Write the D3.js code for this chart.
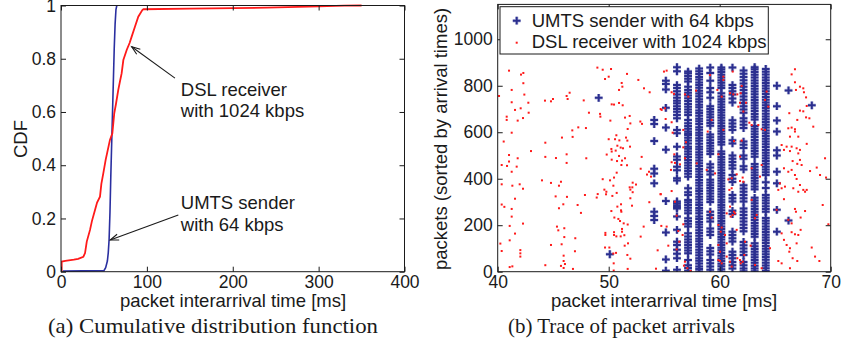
<!DOCTYPE html>
<html><head><meta charset="utf-8">
<script src="https://cdn.jsdelivr.net/npm/d3@7"></script>
<style>
html,body{margin:0;padding:0;background:#fff;}
svg{display:block;}
</style></head><body>
<svg id="chart" width="841" height="352"></svg>
<script>
// ---------------- DATA ----------------
// (a) CDF curves: packet interarrival time [ms] vs CDF
const dslCdfX = [0.8, 0.8, 5, 15, 20, 26, 28, 30, 33.8, 36, 39.6, 42, 45.4, 47, 49.3, 52, 54, 57, 59.8, 62, 64, 66.7, 69, 70.6, 72.6, 76.5, 80, 82.3, 86.1, 90, 94.7, 96, 150, 240, 300, 330, 350];
const dslCdfY = [0.0, 0.038, 0.041, 0.045, 0.048, 0.056, 0.07, 0.113, 0.157, 0.19, 0.232, 0.26, 0.282, 0.33, 0.37, 0.42, 0.45, 0.495, 0.52, 0.595, 0.63, 0.683, 0.72, 0.745, 0.795, 0.833, 0.86, 0.883, 0.92, 0.958, 0.983, 0.986, 0.988, 0.992, 0.997, 0.9995, 1.0];
const umtsCdfX = [2, 50, 52, 54, 55, 56, 57, 58, 59, 60, 61, 62, 63, 64, 65];
const umtsCdfY = [0.002, 0.004, 0.015, 0.04, 0.07, 0.12, 0.22, 0.36, 0.48, 0.6, 0.72, 0.84, 0.93, 0.985, 1.0];
const cdfXTicks = [0, 100, 200, 300, 400];
const cdfYTicks = [0, 0.2, 0.4, 0.6, 0.8, 1];
const cdfYTickLabels = ["0", "0.2", "0.4", "0.6", "0.8", "1"];

// (b) Trace: UMTS sender packets grouped by interarrival-time column
const umtsColumnX = [49.1, 50.1, 54.1, 55.15, 56.15, 57.15, 58.15, 59.15, 60.15, 61.15, 62.15, 63.15, 64.15, 65.15, 66.2, 68.3];
const umtsColumnPackets = [
  [748],
  [75],
  [653, 635, 562, 443, 423, 380, 258, 240, 222],
  [822, 808, 784, 705, 620, 525, 304, 169, 53, 4],
  [880, 862, 803, 790, 776, 762, 748, 736, 725, 712, 700, 688, 674, 660, 610, 596, 538, 496, 482, 452, 437, 402, 392, 302, 294, 286, 278, 272, 237, 180, 129, 115, 94, 77, 58, 8],
  [4, 16, 28, 50, 79, 91, 103, 115, 127, 139, 151, 165, 194, 206, 218, 230, 251, 263, 275, 287, 299, 309, 330, 342, 359, 409, 421, 433, 445, 457, 469, 481, 493, 505, 517, 529, 538, 552, 564, 576, 588, 595, 603, 615, 627, 639, 653, 674, 686, 698, 710, 722, 734, 746, 758, 770, 782, 796, 818, 830, 842, 854, 861],
  [1, 12, 22, 35, 47, 58, 71, 83, 94, 107, 118, 131, 142, 155, 167, 178, 191, 203, 214, 227, 238, 251, 263, 274, 287, 298, 311, 322, 335, 347, 358, 371, 383, 394, 407, 418, 431, 442, 455, 467, 478, 491, 503, 514, 527, 538, 551, 563, 574, 587, 598, 611, 622, 635, 647, 658, 671, 683, 694, 707, 718, 731, 742, 755, 767, 778, 791, 803, 814, 827, 838, 851, 862, 874],
  [878, 855, 822, 790, 772, 748, 712, 700, 688, 676, 664, 652, 640, 628, 590, 578, 566, 554, 542, 530, 518, 506, 462, 448, 432, 418, 396, 384, 372, 360, 348, 336, 324, 312, 300, 258, 244, 230, 216, 186, 172, 158, 102, 88, 74, 50, 36, 22, 8],
  [0, 11, 23, 34, 46, 57, 69, 80, 92, 103, 115, 126, 138, 149, 161, 172, 184, 195, 207, 218, 230, 241, 253, 264, 276, 287, 299, 310, 322, 333, 345, 356, 368, 379, 391, 402, 414, 425, 437, 448, 460, 471, 483, 494, 506, 517, 547, 558, 570, 581, 593, 604, 616, 627, 639, 650, 662, 673, 685, 696, 708, 719, 731, 742, 754, 768, 790, 801, 813, 824, 836, 847, 859, 870, 878],
  [878, 803, 790, 776, 762, 745, 728, 652, 638, 624, 610, 566, 552, 500, 486, 472, 458, 444, 416, 400, 386, 330, 316, 302, 262, 248, 172, 158, 144, 130, 86, 72, 58, 42, 28, 14],
  [866, 852, 838, 824, 810, 796, 782, 768, 754, 740, 726, 712, 698, 684, 660, 646, 632, 618, 560, 546, 532, 500, 486, 454, 440, 372, 358, 344, 330, 316, 302, 272, 258, 244, 230, 216, 202, 188, 174, 128, 114, 100, 86, 72, 42, 28, 14, 2],
  [2, 14, 26, 38, 50, 62, 74, 86, 98, 110, 122, 150, 162, 174, 186, 198, 210, 222, 234, 246, 258, 270, 282, 294, 306, 318, 355, 367, 379, 391, 403, 415, 427, 439, 451, 463, 495, 507, 519, 531, 543, 555, 567, 579, 591, 603, 615, 627, 655, 667, 679, 691, 703, 715, 727, 739, 751, 763, 775, 787, 799, 811, 823, 835, 847, 859, 871, 880],
  [3, 15, 27, 39, 51, 63, 75, 87, 99, 111, 123, 135, 147, 159, 171, 183, 195, 207, 219, 231, 258, 270, 282, 294, 306, 318, 330, 360, 385, 416, 428, 440, 452, 464, 476, 488, 500, 512, 524, 536, 548, 560, 572, 584, 596, 608, 620, 632, 644, 656, 668, 680, 692, 704, 716, 728, 740, 752, 764, 776, 788, 800, 812, 824, 836, 848, 860, 872],
  [800, 712, 650, 603, 522, 500, 430, 380, 266, 172],
  [780, 220],
  [716]
];
// DSL receiver packets: [interarrival ms, packet index]
const dslPoints = [
[41.02,865],[42.10,848],[42.31,855],[42.31,811],[41.26,782],[42.40,762],[40.12,756],[41.26,729],[42.76,727],[41.56,696],[42.07,703],[42.79,684],[40.81,667],[40.81,653],[41.80,650],[42.28,661],[41.26,598],[40.54,560],[44.26,736],[44.80,733],[44.98,743],[46.21,756],[46.48,770],[46.30,743],[47.75,737],[48.98,878],[49.46,869],[50.21,872],[50.00,839],[49.67,829],[51.65,851],[51.17,812],[51.23,796],[50.93,782],[52.67,825],[53.18,789],[53.69,772],[50.27,720],[50.48,719],[50.93,726],[51.26,716],[49.22,679],[49.25,667],[48.22,684],[50.15,650],[51.89,670],[51.47,663],[51.95,638],[52.85,646],[53.00,636],[51.71,614],[50.69,587],[46.72,608],[47.26,621],[47.95,618],[46.75,580],[45.79,577],[44.29,555],[50.00,570],[50.57,570],[50.96,565],[51.56,577],[51.68,564],[51.92,538],[50.24,528],[50.78,542],[51.08,534],[51.29,531],[49.82,504],[50.27,517],[50.63,521],[50.93,498],[51.47,488],[52.97,494],[54.68,700],[43.00,519],[44.29,494],[46.21,505],[45.25,489],[47.98,488],[41.80,488],[41.02,502],
[41.02,474],[40.36,459],[40.84,455],[41.71,452],[41.26,430],[46.21,468],[50.27,482],[50.75,476],[51.20,478],[51.14,459],[51.65,458],[52.88,443],[53.63,430],[53.81,409],[53.45,418],[50.72,426],[50.48,405],[49.46,398],[50.12,393],[49.61,353],[49.79,344],[49.01,334],[48.92,319],[49.76,333],[50.42,370],[50.72,339],[50.33,326],[51.89,363],[51.95,353],[52.13,363],[52.16,342],[52.46,375],[52.16,383],[51.95,316],[54.68,333],[53.66,299],[52.10,284],[50.78,280],[51.11,290],[51.11,264],[51.14,258],[50.24,261],[50.51,233],[50.87,227],[51.02,218],[51.35,208],[51.71,203],[53.15,194],[51.20,184],[51.20,172],[49.70,167],[49.70,158],[50.48,170],[50.48,158],[50.69,152],[51.08,152],[51.41,157],[52.88,151],[51.74,122],[51.44,112],[49.67,104],[50.06,104],[50.42,78],[50.66,81],[51.68,72],[51.95,56],[54.41,92],[54.74,197],[50.45,36],[50.45,5],[51.71,12],[54.26,13],[40.36,376],[41.32,370],[41.98,376],[42.28,357],[41.56,314],[40.36,289],[40.60,279],[41.26,270],[41.26,237],[42.28,207],[41.08,197],[41.56,164],[40.24,121],[41.08,135],[42.04,93],[42.04,79],[40.36,89],[42.04,65],[41.08,20],[41.32,23],[44.29,28],[43.99,393],[44.80,382],[45.52,370],[45.70,387],[45.22,324],[46.24,322],[45.91,290],[45.52,273],[47.86,330],[47.20,287],[47.50,253],[45.34,194],[45.46,178],[46.00,187],[46.00,149],[44.80,115],[45.76,118],[46.99,144],[46.96,88],[45.94,69],[45.94,46],[46.06,33],[45.70,25],[45.94,16],[46.78,12],
[54.98,861],[55.22,865],[55.67,772],[55.88,765],[56.87,763],[57.17,753],[57.87,779],[55.07,703],[54.77,696],[55.67,643],[55.13,657],[55.76,598],[56.72,610],[56.96,557],[56.72,535],[55.91,505],[58.92,603],[59.79,782],[60.18,753],[60.33,839],[60.33,825],[60.93,768],[61.23,763],[61.59,763],[61.89,768],[61.68,710],[62.13,689],[61.83,727],[62.37,727],[62.67,641],[62.88,631],[63.48,631],[63.78,613],[64.08,610],[61.98,799],[61.17,861],[59.28,653],[60.33,610],[61.29,562],[61.98,564],[59.88,505],[66.78,871],[66.48,849],[66.78,815],[67.23,796],[67.53,789],[66.87,782],[67.59,772],[67.78,750],[67.84,713],[67.23,693],[67.53,690],[67.78,664],[68.08,660],[66.27,682],[66.99,653],[66.48,620],[66.18,617],[66.78,613],[66.33,581],[66.78,603],[67.08,581],[65.58,545],[66.03,538],[66.48,538],[66.93,531],[65.79,524],[66.33,519],[67.08,509],[67.23,524],[67.84,550],[64.23,775],[64.08,739],[64.38,710],[59.13,846],[68.43,624],
[55.67,471],[55.97,468],[55.61,438],[56.42,462],[56.87,488],[57.93,466],[58.83,438],[59.58,423],[60.78,397],[61.08,402],[61.53,419],[61.83,390],[62.13,387],[61.08,359],[60.87,352],[62.07,405],[61.83,495],[62.88,445],[63.78,459],[63.63,409],[65.79,445],[66.18,430],[66.48,438],[66.78,416],[66.93,399],[67.23,373],[67.53,352],[67.69,344],[67.84,352],[67.08,344],[66.63,359],[65.88,366],[65.43,380],[65.28,352],[65.58,359],[65.79,312],[66.78,270],[66.87,258],[67.29,233],[67.69,261],[68.14,433],[68.74,448],[69.04,416],[69.49,488],[69.58,405],[69.28,287],[69.79,204],[66.57,476],[66.99,464],[67.23,481],[67.38,459],[55.67,347],[54.68,334],[55.97,301],[56.12,241],[56.27,175],[56.72,204],[56.66,158],[56.36,129],[55.37,112],[55.22,194],[56.12,96],[56.87,43],[56.78,26],[57.08,15],[57.38,3],[59.13,258],[59.28,233],[59.88,201],[60.93,280],[61.29,258],[61.17,244],[60.99,237],[61.38,251],[60.63,251],[60.18,190],[60.09,172],[60.48,158],[60.63,122],[59.88,115],[60.03,86],[60.03,46],[60.18,36],[59.88,50],[60.63,65],[60.93,43],[61.08,22],[61.59,58],[61.83,50],[61.89,36],[62.07,43],[62.22,72],[62.79,112],[63.18,29],[63.78,15],[62.88,309],[63.18,230],[63.33,244],[62.28,129],[64.53,101],[65.28,46],[65.58,36],[66.33,15],[65.58,165],[65.79,137],[66.03,115],[66.33,101],[66.48,170],[66.78,161],[67.08,158],[67.29,180],[66.93,122],[66.27,86],[66.57,58],[66.99,46],[68.29,104],[68.59,65],[68.98,46],[65.13,266],[66.18,223],[66.48,208],[61.53,180]
];
const traceXTicks = [40, 50, 60, 70];
const traceYTicks = [0, 200, 400, 600, 800, 1000];
const seriesNames = ["UMTS sender with 64 kbps", "DSL receiver with 1024 kbps"];
const captions = ["(a) Cumulative distribution function", "(b) Trace of packet arrivals"];

// ---------------- STYLE ----------------
const SANS = "'Liberation Sans', Arial, Helvetica, sans-serif";
const SERIF = "'Liberation Serif', 'Times New Roman', serif";
const BLUE = "#2b2f8f";
const HALO = "#8f93cc";
const RED = "#ff1a1a";
const INK = "#1a1a1a";

const svg = d3.select("#chart");

function frameAxes(x, y, xTicks, yTicks, yLabels) {
  const [x0, x1] = x.range();
  const [y0, y1] = y.range();
  const g = svg.append("g");
  const styleAxis = sel => {
    sel.selectAll(".domain").remove();
    sel.selectAll(".tick line").attr("stroke", INK).attr("stroke-width", 1);
    sel.selectAll(".tick text").attr("font-family", SANS).attr("font-size", 17.5).attr("fill", INK);
    sel.attr("font-family", null).attr("font-size", null);
  };
  g.append("g").attr("transform", `translate(0,${y0})`)
    .call(d3.axisBottom(x).tickValues(xTicks).tickSize(-5).tickPadding(3.5).tickSizeOuter(0))
    .call(styleAxis);
  g.append("g").attr("transform", `translate(0,${y1})`)
    .call(d3.axisTop(x).tickValues(xTicks).tickSize(-5).tickFormat("").tickSizeOuter(0))
    .call(styleAxis);
  g.append("g").attr("transform", `translate(${x0},0)`)
    .call(d3.axisLeft(y).tickValues(yTicks).tickSize(-5).tickPadding(5).tickSizeOuter(0)
      .tickFormat((d, i) => yLabels ? yLabels[i] : String(d)))
    .call(styleAxis);
  g.append("g").attr("transform", `translate(${x1},0)`)
    .call(d3.axisRight(y).tickValues(yTicks).tickSize(-5).tickFormat("").tickSizeOuter(0))
    .call(styleAxis);
  g.append("rect").attr("x", x0).attr("y", y1).attr("width", x1 - x0).attr("height", y0 - y1)
    .attr("fill", "none").attr("stroke", INK).attr("stroke-width", 1);
}

// ---------------- (a) CDF ----------------
const xL = d3.scaleLinear().domain([0, 400]).range([61, 404.5]);
const yL = d3.scaleLinear().domain([0, 1]).range([271.7, 5.5]);

svg.append("clipPath").attr("id", "clipA").append("rect")
  .attr("x", 61).attr("y", 4).attr("width", 343.5).attr("height", 268.5);

const lineL = d3.line().x(d => xL(d[0])).y(d => yL(d[1])).curve(d3.curveLinear);
const gA = svg.append("g").attr("clip-path", "url(#clipA)");
gA.append("path").datum(umtsCdfX.map((v, i) => [v, umtsCdfY[i]]))
  .attr("d", lineL).attr("fill", "none").attr("stroke", "#2a2fa0").attr("stroke-width", 1.6);
gA.append("path").datum(dslCdfX.map((v, i) => [v, dslCdfY[i]]))
  .attr("d", lineL).attr("fill", "none").attr("stroke", RED).attr("stroke-width", 1.8);

frameAxes(xL, yL, cdfXTicks, cdfYTicks, cdfYTickLabels);

// annotations (data coordinates)
const annotations = [
  { lines: ["DSL receiver", "with 1024 kbps"], tx: 139.5, ty: [0.661, 0.581], from: [132.7, 0.727], to: [82.3, 0.845] },
  { lines: ["UMTS sender", "with 64 kbps"], tx: 139.5, ty: [0.2355, 0.154], from: [136.6, 0.213], to: [57.3, 0.119] }
];
annotations.forEach(a => {
  a.lines.forEach((t, i) => {
    svg.append("text").attr("x", xL(a.tx)).attr("y", yL(a.ty[i]))
      .attr("font-family", SANS).attr("font-size", 18.5).attr("fill", INK).text(t);
  });
  const x1 = xL(a.from[0]), y1 = yL(a.from[1]), x2 = xL(a.to[0]), y2 = yL(a.to[1]);
  svg.append("line").attr("x1", x1).attr("y1", y1).attr("x2", x2).attr("y2", y2)
    .attr("stroke", INK).attr("stroke-width", 1.1);
  const ang = Math.atan2(y1 - y2, x1 - x2), L = 9, w = 0.35;
  const p = [[x2 + L * Math.cos(ang + w), y2 + L * Math.sin(ang + w)], [x2, y2], [x2 + L * Math.cos(ang - w), y2 + L * Math.sin(ang - w)]];
  svg.append("path").attr("d", d3.line()(p)).attr("fill", "none").attr("stroke", INK).attr("stroke-width", 1.1);
});

svg.append("text").attr("transform", "translate(27,139) rotate(-90)").attr("text-anchor", "middle")
  .attr("font-family", SANS).attr("font-size", 18.5).attr("fill", INK).text("CDF");
svg.append("text").attr("x", 233).attr("y", 306.5).attr("text-anchor", "middle")
  .attr("font-family", SANS).attr("font-size", 18.5).attr("fill", INK).text("packet interarrival time [ms]");

// ---------------- (b) Trace ----------------
const xR = d3.scaleLinear().domain([40, 70]).range([497.7, 830.7]);
const yR = d3.scaleLinear().domain([0, 1150]).range([271.7, 4.4]);

svg.append("clipPath").attr("id", "clipB").append("rect")
  .attr("x", 497.7).attr("y", 4.4).attr("width", 333).attr("height", 267.3);
const gB = svg.append("g").attr("clip-path", "url(#clipB)");

const umtsPts = [];
umtsColumnX.forEach((x, i) => umtsColumnPackets[i].forEach(p => umtsPts.push([x, p])));
const plusPath = "M-3.9,0H3.9M0,-3.9V3.9";
gB.selectAll("path.halo").data(umtsPts).join("path").attr("class", "halo")
  .attr("transform", d => `translate(${xR(d[0])},${yR(d[1])})`)
  .attr("d", plusPath).attr("stroke", HALO).attr("stroke-width", 3.4).attr("fill", "none").attr("opacity", 0.55);
gB.selectAll("path.umts").data(umtsPts).join("path").attr("class", "umts")
  .attr("transform", d => `translate(${xR(d[0])},${yR(d[1])})`)
  .attr("d", plusPath).attr("stroke", BLUE).attr("stroke-width", 2).attr("fill", "none");
gB.selectAll("rect.dsl").data(dslPoints).join("rect").attr("class", "dsl")
  .attr("x", d => xR(d[0]) - 1).attr("y", d => yR(d[1]) - 1)
  .attr("width", 2).attr("height", 2).attr("fill", RED);

frameAxes(xR, yR, traceXTicks, traceYTicks, null);

// legend
const lg = svg.append("g");
lg.append("rect").attr("x", 500).attr("y", 6.7).attr("width", 268.3).attr("height", 47.3)
  .attr("fill", "#fff").attr("stroke", INK).attr("stroke-width", 1);
lg.append("path").attr("transform", "translate(516.7,20.7)").attr("d", plusPath)
  .attr("stroke", HALO).attr("stroke-width", 3.4).attr("opacity", 0.55);
lg.append("path").attr("transform", "translate(516.7,20.7)").attr("d", plusPath)
  .attr("stroke", BLUE).attr("stroke-width", 2);
lg.append("rect").attr("x", 515.7).attr("y", 41.7).attr("width", 2).attr("height", 2).attr("fill", RED);
seriesNames.forEach((t, i) => {
  lg.append("text").attr("x", 531.7).attr("y", [26.9, 47.9][i])
    .attr("font-family", SANS).attr("font-size", 18.5).attr("fill", INK).text(t);
});

svg.append("text").attr("transform", "translate(446.5,139) rotate(-90)").attr("text-anchor", "middle")
  .attr("font-family", SANS).attr("font-size", 18.5).attr("fill", INK).text("packets (sorted by arrival times)");
svg.append("text").attr("x", 664).attr("y", 306.5).attr("text-anchor", "middle")
  .attr("font-family", SANS).attr("font-size", 18.5).attr("fill", INK).text("packet interarrival time [ms]");

// captions
[[213, captions[0], 330], [621.5, captions[1], 227]].forEach(([cx, t, w]) => {
  svg.append("text").attr("x", cx).attr("y", 333).attr("text-anchor", "middle")
    .attr("font-family", SERIF).attr("font-size", 22).attr("fill", INK)
    .attr("textLength", w).attr("lengthAdjust", "spacingAndGlyphs").text(t);
});
</script>
</body></html>
